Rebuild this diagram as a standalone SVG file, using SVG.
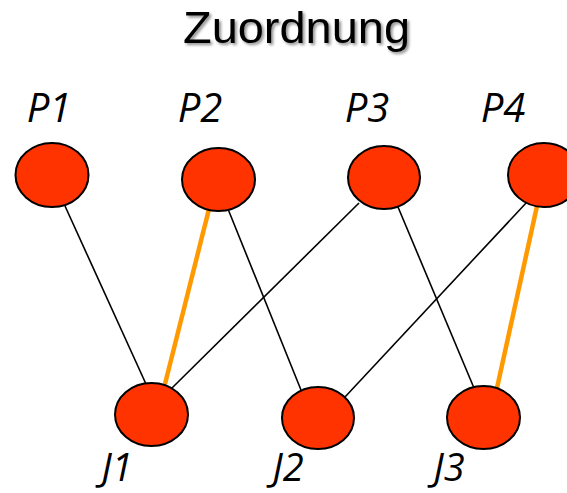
<svg xmlns="http://www.w3.org/2000/svg" width="567" height="493" viewBox="0 0 567 493">
<defs>
<filter id="sh" x="-10%" y="-30%" width="120%" height="160%">
<feGaussianBlur in="SourceAlpha" stdDeviation="1.5"/>
<feOffset dx="2" dy="2" result="b"/>
<feComponentTransfer><feFuncA type="linear" slope="0.45"/></feComponentTransfer>
<feMerge><feMergeNode/><feMergeNode in="SourceGraphic"/></feMerge>
</filter>
</defs>
<style>
.title{font-family:"Liberation Sans",Arial,sans-serif;font-size:44px;fill:#000}
.lbl{font-family:"Open Sans","Noto Sans",sans-serif;font-style:italic;font-size:40px;fill:#000;text-anchor:middle}
.jl{font-size:38px}
.node ellipse{fill:#FF3300;stroke:#000;stroke-width:2}
.e{stroke:#000;stroke-width:1.6;fill:none}
.m{stroke:#FF9900;stroke-width:4.5;fill:none}
</style>
<rect width="567" height="493" fill="#fff"/>
<text class="title" x="296.5" y="43" text-anchor="middle" textLength="227" lengthAdjust="spacingAndGlyphs" filter="url(#sh)">Zuordnung</text>
<g id="connectors">
<line class="e" x1="65" y1="206" x2="146" y2="384"/>
<line class="m" x1="209" y1="209" x2="165" y2="384"/>
<line class="e" x1="228" y1="209" x2="301" y2="390"/>
<line class="e" x1="359" y1="203" x2="172" y2="388"/>
<line class="e" x1="398" y1="207" x2="474" y2="388"/>
<line class="e" x1="527" y1="202" x2="345" y2="397"/>
<line class="m" x1="537" y1="206" x2="497" y2="388"/>
</g>
<g id="P1" class="node"><ellipse cx="52" cy="175" rx="36.5" ry="32"/><text class="lbl" x="49" y="122">P1</text></g>
<g id="P2" class="node"><ellipse cx="218.5" cy="179.5" rx="36.5" ry="31.5"/><text class="lbl" x="200" y="122">P2</text></g>
<g id="P3" class="node"><ellipse cx="384" cy="177.5" rx="36" ry="31.5"/><text class="lbl" x="367" y="122">P3</text></g>
<g id="P4" class="node"><ellipse cx="544" cy="175" rx="36" ry="32"/><text class="lbl" x="503" y="122">P4</text></g>
<g id="J1" class="node"><ellipse cx="151.5" cy="414.5" rx="36.5" ry="31.5"/><text class="lbl jl" x="117" y="481">J1</text></g>
<g id="J2" class="node"><ellipse cx="318" cy="418" rx="36" ry="31"/><text class="lbl jl" x="288" y="481">J2</text></g>
<g id="J3" class="node"><ellipse cx="483.5" cy="417.5" rx="36.5" ry="31.5"/><text class="lbl jl" x="449" y="481">J3</text></g>
</svg>
